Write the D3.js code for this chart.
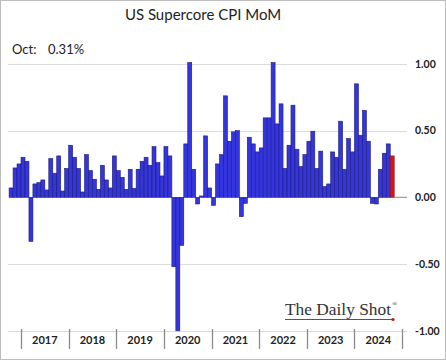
<!DOCTYPE html>
<html><head><meta charset="utf-8">
<script src="https://cdn.jsdelivr.net/npm/d3@7"></script>
<style>
html,body{margin:0;padding:0;background:#fff;}
svg{display:block;}
</style></head>
<body>
<svg id="chart" width="446" height="360"></svg>
<script>
// Monthly data, Oct 2016 .. Oct 2024
const startYear = 2016, startMonth = 9; // 0-based month (Oct)
const values = [
  0.07, 0.22, 0.25, 0.30, 0.27, -0.33, 0.10, 0.11, 0.13, 0.055, 0.29, 0.18,   // Oct16-Sep17
  0.31, 0.047, 0.216, 0.39, 0.30, 0.216, 0.04, 0.32, 0.20, 0.135, 0.06, 0.24, // Oct17-Sep18
  0.13, 0.07, 0.31, 0.20, 0.15, 0.06, 0.21, 0.067, 0.21, 0.27, 0.30, 0.24,    // Oct18-Sep19
  0.38, 0.26, 0.16, 0.38, 0.31, -0.52, -1.00, -0.36, 0.40, 1.01, 0.21, -0.05, // Oct19-Sep20
  0.01, 0.46, 0.07, -0.06, 0.25, 0.32, 0.76, 0.42, 0.49, 0.50, -0.145, -0.045,// Oct20-Sep21
  0.45, 0.40, 0.34, 0.37, 0.595, 0.595, 1.01, 0.55, 0.70, 0.216, 0.39, 0.69,  // Oct21-Sep22
  0.36, 0.23, 0.32, 0.42, 0.495, 0.216, 0.346, 0.08, 0.10, 0.34, 0.30, 0.57,  // Oct22-Sep23
  0.21, 0.44, 0.34, 0.85, 0.465, 0.65, 0.42, -0.045, -0.05, 0.21, 0.33, 0.40, // Oct23-Sep24
  0.31                                                                         // Oct24
];
const years = ["2017","2018","2019","2020","2021","2022","2023","2024"];
const yTicks = [1.00, 0.50, 0.00, -0.50, -1.00];
const titleText = "US Supercore CPI MoM";
const latestLabel = "Oct:";
const latestValue = "0.31%";

const svg = d3.select("#chart");
const W = 446, H = 360;

// border
svg.append("rect").attr("x",0.5).attr("y",0.5).attr("width",W-1).attr("height",H-1)
  .attr("fill","#fff").attr("stroke","#bdbdbd").attr("stroke-width",1);

const x = d3.scaleLinear().domain([0, values.length]).range([9.1, 394.2]);
const y = d3.scaleLinear().domain([-1, 1]).range([330.8, 63.8]);
const plotLeft = 8, plotRight = 407;

// gridlines
svg.append("g").selectAll("line").data(yTicks.filter(d => d !== 0)).join("line")
  .attr("x1", plotLeft).attr("x2", plotRight)
  .attr("y1", d => Math.round(y(d)) + 0.5).attr("y2", d => Math.round(y(d)) + 0.5)
  .attr("stroke", "#dcdcdc").attr("stroke-width", 1);

// bars
svg.append("g").selectAll("rect").data(values).join("rect")
  .attr("x", (d,i) => x(i))
  .attr("width", (d,i) => x(i+1) - x(i))
  .attr("y", d => y(Math.max(0,d)))
  .attr("height", d => Math.abs(y(d) - y(0)))
  .attr("fill", (d,i) => i === values.length-1 ? "#e0101a" : "#3535de")
  .attr("stroke", (d,i) => i === values.length-1 ? "#7a1020" : "#1c1c78")
  .attr("stroke-width", 0.6);

// zero line
svg.append("line").attr("x1", x(values.length)).attr("x2", plotRight)
  .attr("y1", y(0)).attr("y2", y(0)).attr("stroke", "#888").attr("stroke-width", 1);

// right axis labels
const yAxis = d3.axisRight(y).tickValues(yTicks).tickSize(0).tickPadding(0)
  .tickFormat(d3.format(".2f"));
const ya = svg.append("g").attr("transform", "translate(415,0)").call(yAxis);
ya.select(".domain").remove();
ya.selectAll("text").attr("font-family","Lato, 'Open Sans', sans-serif")
  .attr("font-size", 10.5).attr("font-weight","bold").attr("fill","#222")
  .text(d => d3.format(".2f")(d).replace("−","-"));

// year separators and labels
const yearIdx = y0 => (y0 - startYear) * 12 - startMonth;
const seps = years.map(d => +d).concat([+years[years.length-1] + 1]);
svg.append("g").selectAll("line").data(seps).join("line")
  .attr("x1", d => Math.round(x(yearIdx(d))) + 0.5).attr("x2", d => Math.round(x(yearIdx(d))) + 0.5)
  .attr("y1", 329).attr("y2", 349)
  .attr("stroke", "#8a8a8a").attr("stroke-width", 1.3);
svg.append("g").selectAll("text").data(years).join("text")
  .attr("x", d => (x(yearIdx(+d)) + x(yearIdx(+d + 1))) / 2)
  .attr("y", 344)
  .attr("text-anchor", "middle")
  .attr("font-family", "Lato, 'Open Sans', sans-serif")
  .attr("font-size", 11).attr("font-weight", "bold").attr("fill", "#222")
  .text(d => d);

// title
svg.append("text").attr("x", 203).attr("y", 20).attr("text-anchor","middle")
  .attr("font-family","Lato, 'Open Sans', sans-serif").attr("font-size", 15)
  .attr("fill","#222").text(titleText);

// latest value
svg.append("text").attr("x", 12).attr("y", 54)
  .attr("font-family","Lato, 'Open Sans', sans-serif").attr("font-size", 13)
  .attr("fill","#222").text(latestLabel);
svg.append("text").attr("x", 48).attr("y", 54)
  .attr("font-family","Lato, 'Open Sans', sans-serif").attr("font-size", 13)
  .attr("fill","#222").text(latestValue);

// watermark
const wm = svg.append("g");
wm.append("text").attr("x", 285).attr("y", 315)
  .attr("font-family","'Liberation Serif', 'DejaVu Serif', serif").attr("font-size", 17)
  .attr("textLength", 106).attr("lengthAdjust","spacingAndGlyphs")
  .attr("fill","#333").text("The Daily Shot");
wm.append("text").attr("x", 392).attr("y", 306)
  .attr("font-family","'Liberation Serif', serif").attr("font-size", 7)
  .attr("fill","#333").text("®");
wm.append("line").attr("x1", 285).attr("x2", 392).attr("y1", 319.5).attr("y2", 319.5)
  .attr("stroke","#555").attr("stroke-width", 1);
wm.append("circle").attr("cx", 393).attr("cy", 319.5).attr("r", 1.6).attr("fill","#d01010");
</script>
</body></html>
